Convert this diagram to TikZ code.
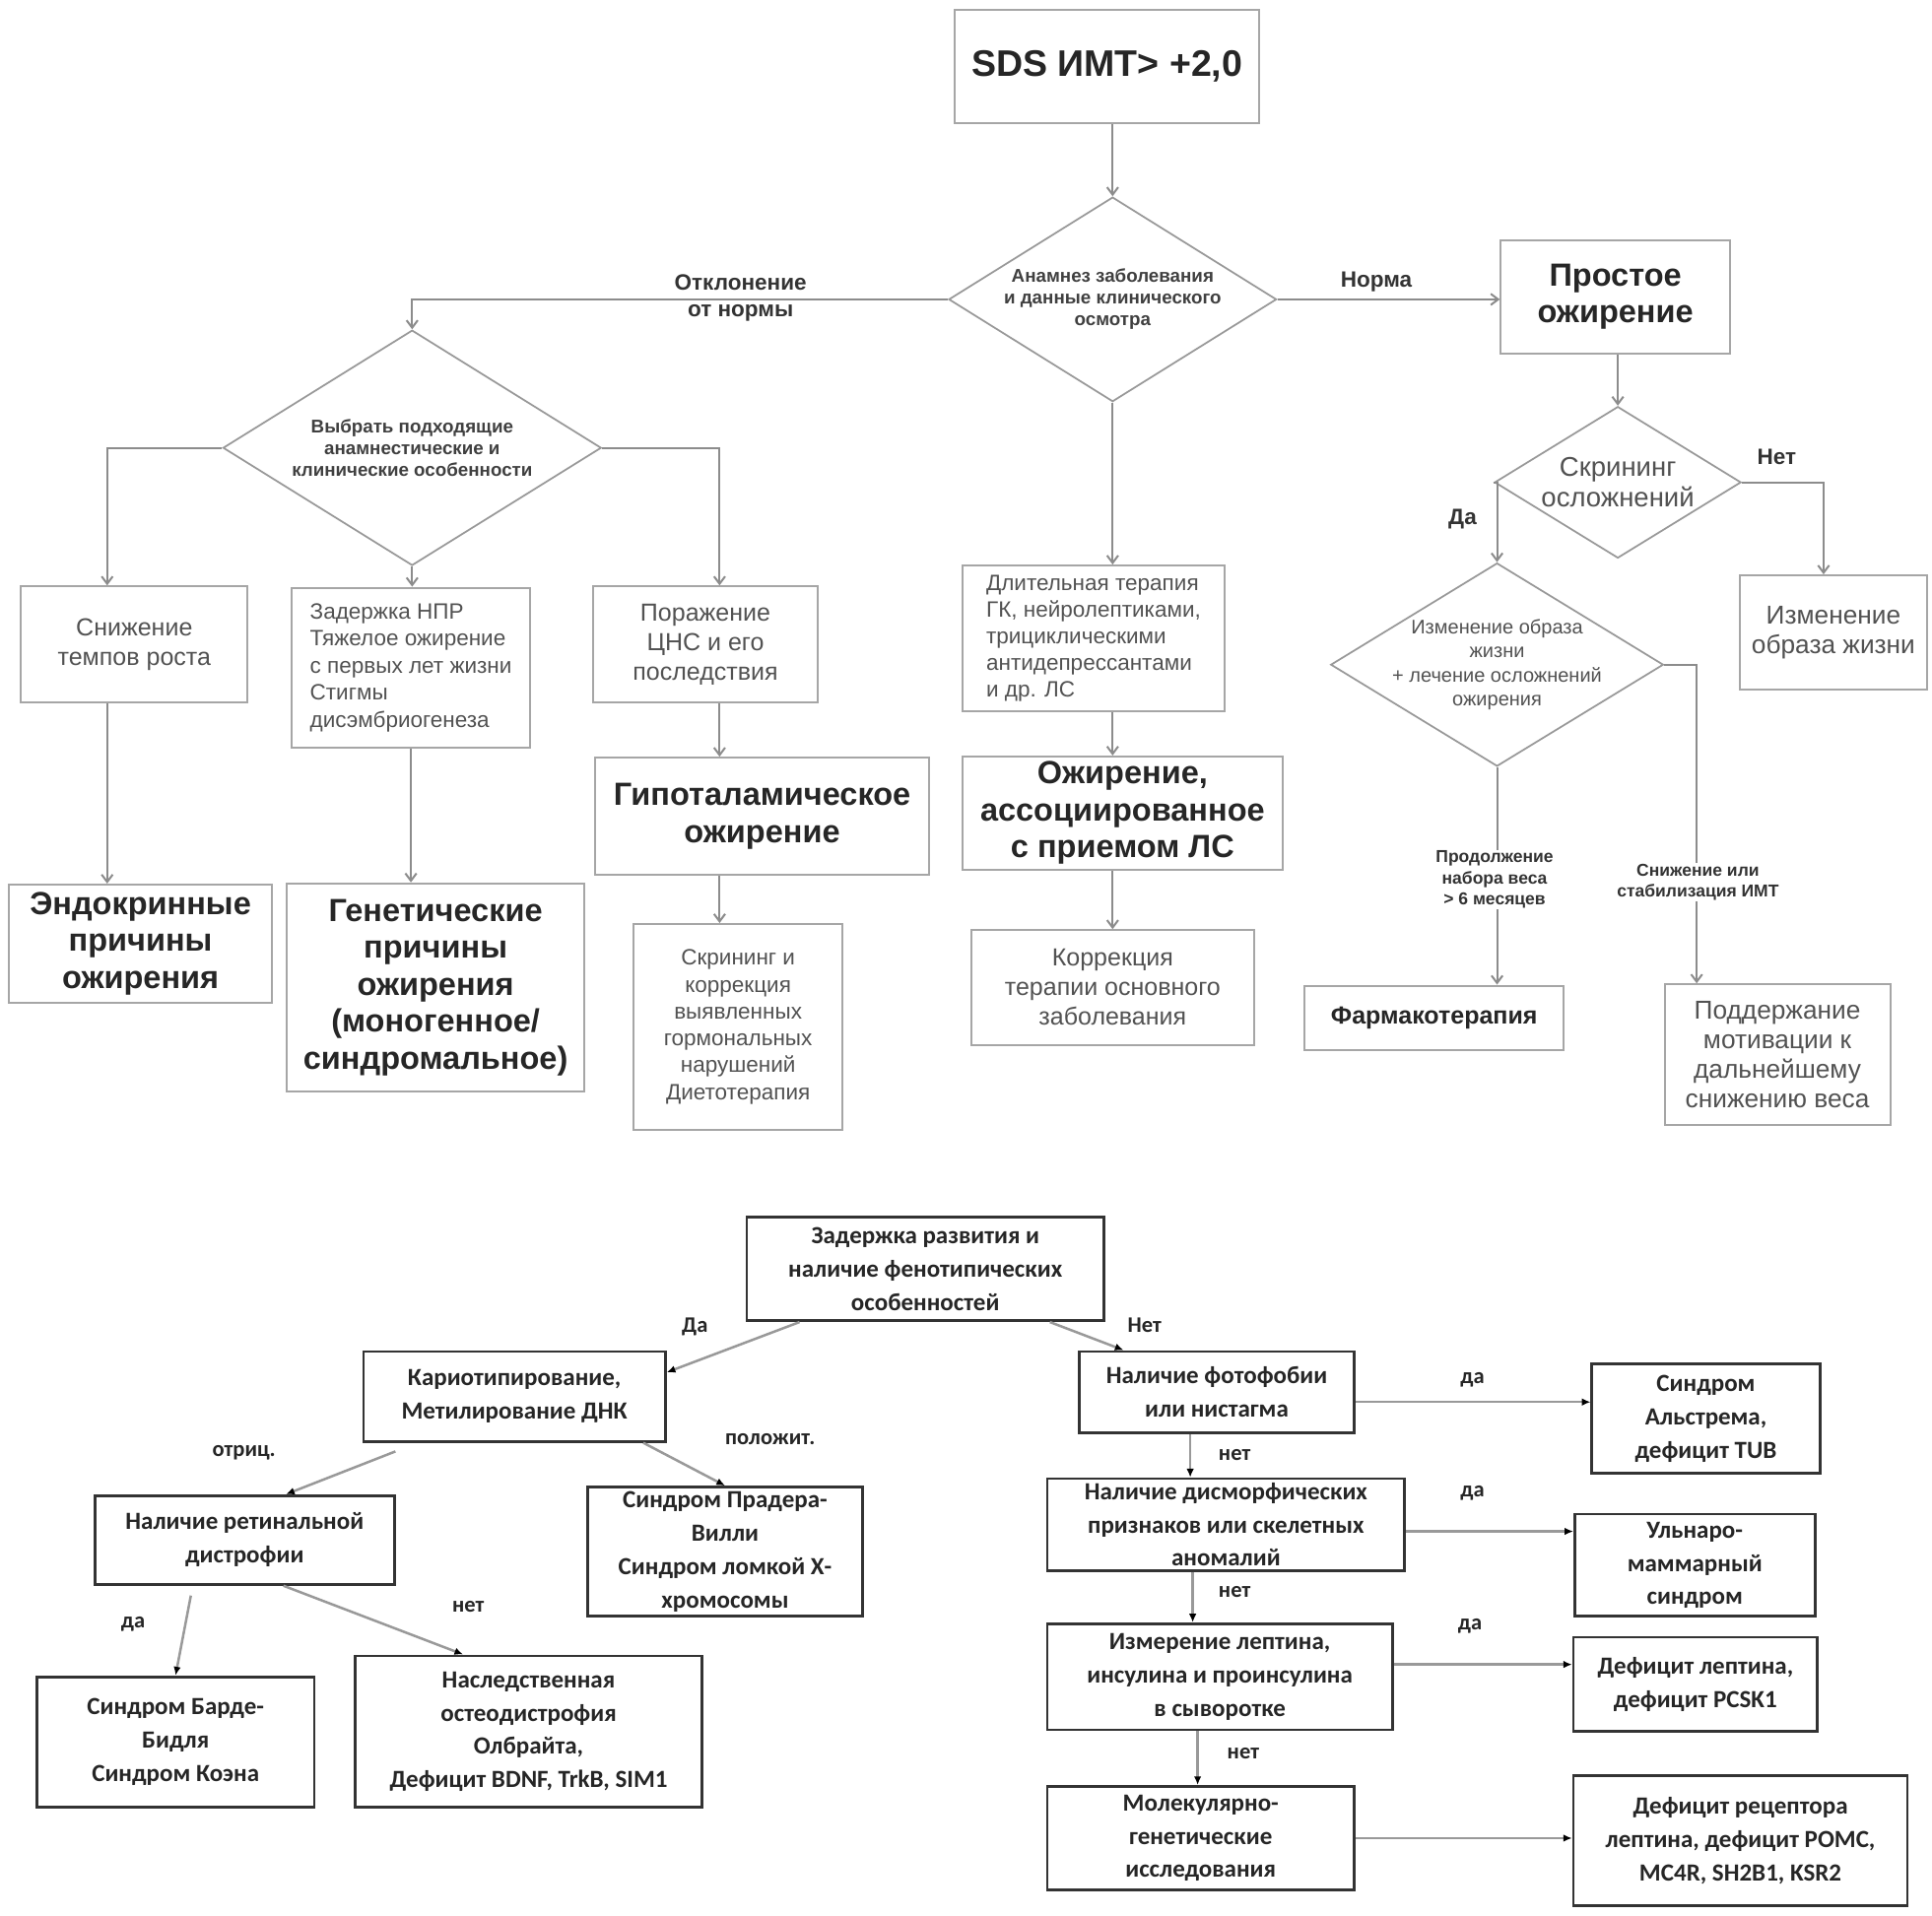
\documentclass[tikz,border=0pt]{standalone}
\usepackage{fontspec}
\setmainfont{Liberation Sans}
\newfontfamily\calfont{Carlito}
\usetikzlibrary{shapes.geometric,arrows.meta}
\tikzstyle{block} = [rectangle, draw=black!35, line width=1.6pt, text=black!68,
    align=center, inner sep=4pt, font=\fontsize{20}{24}\selectfont]
\tikzstyle{bigblock} = [block, text=black!85, font=\bfseries\fontsize{26}{30}\selectfont]
\tikzstyle{decision} = [diamond, draw=black!40, line width=1.4pt, inner sep=0pt]
\tikzstyle{dtext} = [text=black!75, align=center, font=\bfseries\fontsize{15}{17.5}\selectfont]
\tikzstyle{line} = [draw=black!45, line width=1.6pt, -{Straight Barb[length=6pt,width=9pt]}]
\tikzstyle{lbl} = [text=black!80, align=center, inner sep=1pt, font=\bfseries\fontsize{18}{22}\selectfont]
\tikzstyle{gbox} = [rectangle, draw=black!80, line width=2.2pt, text=black!85,
    align=center, font=\calfont\bfseries\fontsize{20}{27}\selectfont]
\tikzstyle{gline} = [draw=black!40, line width=2pt, -{Latex[length=7pt,width=6pt,color=black]}]
\tikzstyle{glbl} = [text=black!85, font=\calfont\bfseries\fontsize{18}{22}\selectfont]

\begin{document}
\begin{tikzpicture}[x=1pt, y=-1pt]
    \useasboundingbox (0,0) rectangle (1568,1555);
    \fill [white] (0,0) rectangle (1568,1555);
    % Place nodes: upper chart
    \node [bigblock, minimum width=247pt, minimum height=92pt, font=\bfseries\fontsize{30}{34}\selectfont] (sds) at (898.5,54) {SDS ИМТ> +2,0};
    \node [decision, minimum width=266pt, minimum height=166pt,
        label={[dtext]center:{Анамнез заболевания\\и данные клинического\\осмотра}}] (anamn) at (903,243) {};
    \node [decision, minimum width=307pt, minimum height=191pt,
        label={[dtext]center:{Выбрать подходящие\\анамнестические и\\клинические особенности}}] (vybr) at (334.5,363.5) {};
    \node [block, minimum width=184pt, minimum height=94pt] (snizh) at (109,523) {Снижение\\темпов роста};
    \node [bigblock, minimum width=214pt, minimum height=96pt] (endo) at (114,766) {Эндокринные\\причины\\ожирения};
    \node [block, align=left, minimum width=193pt, minimum height=130pt, font=\fontsize{18}{22}\selectfont] (npr) at (333.5,542) {Задержка НПР\\Тяжелое ожирение\\с первых лет жизни\\Стигмы\\дисэмбриогенеза};
    \node [bigblock, minimum width=241pt, minimum height=169pt] (genet) at (353.5,801.5) {Генетические\\причины\\ожирения\\(моногенное/\\синдромальное)};
    \node [block, minimum width=183pt, minimum height=94pt] (porazh) at (572.5,523) {Поражение\\ЦНС и его\\последствия};
    \node [bigblock, minimum width=271pt, minimum height=95pt] (gipo) at (618.5,662.5) {Гипоталамическое\\ожирение};
    \node [block, minimum width=170pt, minimum height=167pt, font=\fontsize{18}{21.8}\selectfont] (skrkorr) at (599,833.5) {Скрининг и\\коррекция\\выявленных\\гормональных\\нарушений\\Диетотерапия};
    \node [block, align=left, minimum width=213pt, minimum height=118pt, font=\fontsize{18}{21.5}\selectfont] (dlit) at (887.5,518) {Длительная терапия\\ГК, нейролептиками,\\трициклическими\\антидепрессантами\\и др. ЛС};
    \node [bigblock, minimum width=260pt, minimum height=92pt] (assoc) at (911,660) {Ожирение,\\ассоциированное\\с приемом ЛС};
    \node [block, minimum width=230pt, minimum height=93pt] (korr) at (903,801.5) {Коррекция\\терапии основного\\заболевания};
    \node [bigblock, minimum width=186pt, minimum height=92pt] (prost) at (1311,241) {Простое\\ожирение};
    \node [decision, minimum width=200pt, minimum height=123pt,
        label={[dtext, text=black!68, font=\fontsize{22}{25}\selectfont]center:{Скрининг\\осложнений}}] (skrin) at (1313,391.5) {};
    \node [block, minimum width=152pt, minimum height=93pt, font=\fontsize{21}{24}\selectfont] (izm) at (1488,513.5) {Изменение\\образа жизни};
    \node [decision, minimum width=270pt, minimum height=165pt,
        label={[dtext, text=black!68, font=\fontsize{16}{19.5}\selectfont]center:{Изменение образа\\жизни\\+ лечение осложнений\\ожирения}}] (izmlech) at (1215,539.5) {};
    \node [bigblock, minimum width=210pt, minimum height=52pt, font=\bfseries\fontsize{20}{24}\selectfont] (farm) at (1164,826) {Фармакотерапия};
    \node [block, minimum width=183pt, minimum height=114pt, font=\fontsize{21}{24}\selectfont] (podd) at (1442.5,856) {Поддержание\\мотивации к\\дальнейшему\\снижению веса};
    % Connectors: upper chart
    \path [line] (anamn.north |- sds.south) -- (anamn.north);
    \path [line] (anamn.west) -| (vybr.north);
    \path [line] (anamn.east) -- (anamn.east -| prost.west);
    \path [line] (anamn.south) -- (anamn.south |- dlit.north);
    \path [line] ([xshift=15.5pt]dlit.south) -- ([xshift=15.5pt]dlit.south |- assoc.north);
    \path [line] (korr.north |- assoc.south) -- (korr.north);
    \path [line] (vybr.west) -| ([xshift=-22pt]snizh.north);
    \path [line] (vybr.east) -| ([xshift=11.5pt]porazh.north);
    \path [line] (vybr.south) -- (vybr.south |- npr.north);
    \path [line] ([xshift=-22pt]snizh.south) -- ([xshift=-22pt]snizh.south |- endo.north);
    \path [line] (npr.south) -- (npr.south |- genet.north);
    \path [line] ([xshift=11.5pt]porazh.south) -- ([xshift=11.5pt]porazh.south |- gipo.north);
    \path [line] ([xshift=11.5pt]porazh.south |- gipo.south) -- ([xshift=11.5pt]porazh.south |- skrkorr.north);
    \path [line] (skrin.north |- prost.south) -- (skrin.north);
    \path [line] (skrin.east) -| ([xshift=-8pt]izm.north);
    \path [line] (skrin.west) -| (izmlech.north);
    \path [line] (izmlech.east) -| ([xshift=-65.5pt]podd.north);
    \path [line] (izmlech.south) -- (izmlech.south |- farm.north);
    % Labels: upper chart
    \node [lbl] (lotkl) at (601,242) {Отклонение\\от нормы};
    \node [lbl] (lnorma) at (1117,229) {Норма};
    \node [lbl] (lnet) at (1442,371) {Нет};
    \node [lbl] (lda) at (1187,421) {Да};
    \node [lbl, fill=white, font=\bfseries\fontsize{14}{17}\selectfont] (lprod) at (1213,714) {Продолжение\\набора веса\\> 6 месяцев};
    \node [lbl, fill=white, font=\bfseries\fontsize{14}{17}\selectfont] (lsniz) at (1378,716) {Снижение или\\стабилизация ИМТ};
    % Place nodes: lower chart
    \node [gbox, minimum width=290pt, minimum height=84pt] (zad) at (751,1030) {Задержка развития и\\наличие фенотипических\\особенностей};
    \node [gbox, minimum width=245pt, minimum height=73pt] (kario) at (417.5,1133.5) {Кариотипирование,\\Метилирование ДНК};
    \node [gbox, minimum width=243pt, minimum height=72pt] (retin) at (198.5,1250) {Наличие ретинальной\\дистрофии};
    \node [gbox, minimum width=223pt, minimum height=105pt] (prader) at (588.5,1259.5) {Синдром Прадера-\\Вилли\\Синдром ломкой Х-\\хромосомы};
    \node [gbox, minimum width=225pt, minimum height=106pt] (barde) at (142.5,1414) {Синдром Барде-\\Бидля\\Синдром Коэна};
    \node [gbox, minimum width=282pt, minimum height=123pt] (olbr) at (429,1405.5) {Наследственная\\остеодистрофия\\Олбрайта,\\Дефицит BDNF, TrkB, SIM1};
    \node [gbox, minimum width=223pt, minimum height=66pt] (foto) at (987.5,1130) {Наличие фотофобии\\или нистагма};
    \node [gbox, minimum width=185pt, minimum height=89pt] (alstr) at (1384.5,1151.5) {Синдром\\Альстрема,\\дефицит TUB};
    \node [gbox, minimum width=290pt, minimum height=71pt] (dismorf) at (995,1237.5) {Наличие дисморфических\\признаков или скелетных\\аномалий};
    \node [gbox, minimum width=195pt, minimum height=83pt] (ulnar) at (1375.5,1270.5) {Ульнаро-\\маммарный\\синдром};
    \node [gbox, minimum width=280pt, minimum height=86pt] (leptin) at (990,1361) {Измерение лептина,\\инсулина и проинсулина\\в сыворотке};
    \node [gbox, minimum width=198pt, minimum height=76pt] (defl) at (1376,1367) {Дефицит лептина,\\дефицит PCSK1};
    \node [gbox, minimum width=249pt, minimum height=84pt] (molek) at (974.5,1492) {Молекулярно-\\генетические\\исследования};
    \node [gbox, minimum width=271pt, minimum height=106pt] (defrec) at (1412.5,1494) {Дефицит рецептора\\лептина, дефицит POMC,\\MC4R, SH2B1, KSR2};
    % Connectors: lower chart
    \path [gline] ([xshift=44pt]zad.south west) -- ([yshift=-18pt]kario.north east);
    \path [gline] ([xshift=-45pt]zad.south east) -- ([xshift=37pt]foto.north west);
    \path [gline] ([xshift=-19pt]kario.south east) -- (prader.north);
    \path [gline] ([xshift=27pt,yshift=-7pt]kario.south west) -- ([xshift=33.5pt]retin.north);
    \path [gline] ([xshift=79pt,yshift=-8pt]retin.south west) -- (barde.north);
    \path [gline] ([xshift=31.5pt]retin.south) -- ([xshift=89pt]olbr.north west);
    \path [gline] ([yshift=-8pt]foto.east) -- ([yshift=-8pt]foto.east -| alstr.west);
    \path [gline] ([xshift=-21.5pt]foto.south) -- ([xshift=-21.5pt]foto.south |- dismorf.north);
    \path [gline] ([yshift=-5.5pt]dismorf.east) -- ([yshift=-5.5pt]dismorf.east -| ulnar.west);
    \path [gline] ([xshift=-27pt]dismorf.south) -- ([xshift=-27pt]dismorf.south |- leptin.north);
    \path [gline] ([yshift=10pt]leptin.east) -- ([yshift=10pt]leptin.east -| defl.west);
    \path [gline] ([xshift=-18pt]leptin.south) -- ([xshift=-18pt]leptin.south |- molek.north);
    \path [gline] (molek.east) -- (molek.east -| defrec.west);
    % Labels: lower chart
    \node [glbl] (lda1) at (564,1077) {Да};
    \node [glbl] (lnet1) at (929,1076) {Нет};
    \node [glbl] (lpol) at (625,1168) {положит.};
    \node [glbl] (lotr) at (198,1179) {отриц.};
    \node [glbl] (lda2) at (108,1318) {да};
    \node [glbl] (lnet2) at (380,1304) {нет};
    \node [glbl] (lda3) at (1195,1120) {да};
    \node [glbl] (lnet3) at (1002,1181) {нет};
    \node [glbl] (lda4) at (1195,1212) {да};
    \node [glbl] (lnet4) at (1002,1292) {нет};
    \node [glbl] (lda5) at (1193,1320) {да};
    \node [glbl] (lnet5) at (1009,1423) {нет};
\end{tikzpicture}
\end{document}
